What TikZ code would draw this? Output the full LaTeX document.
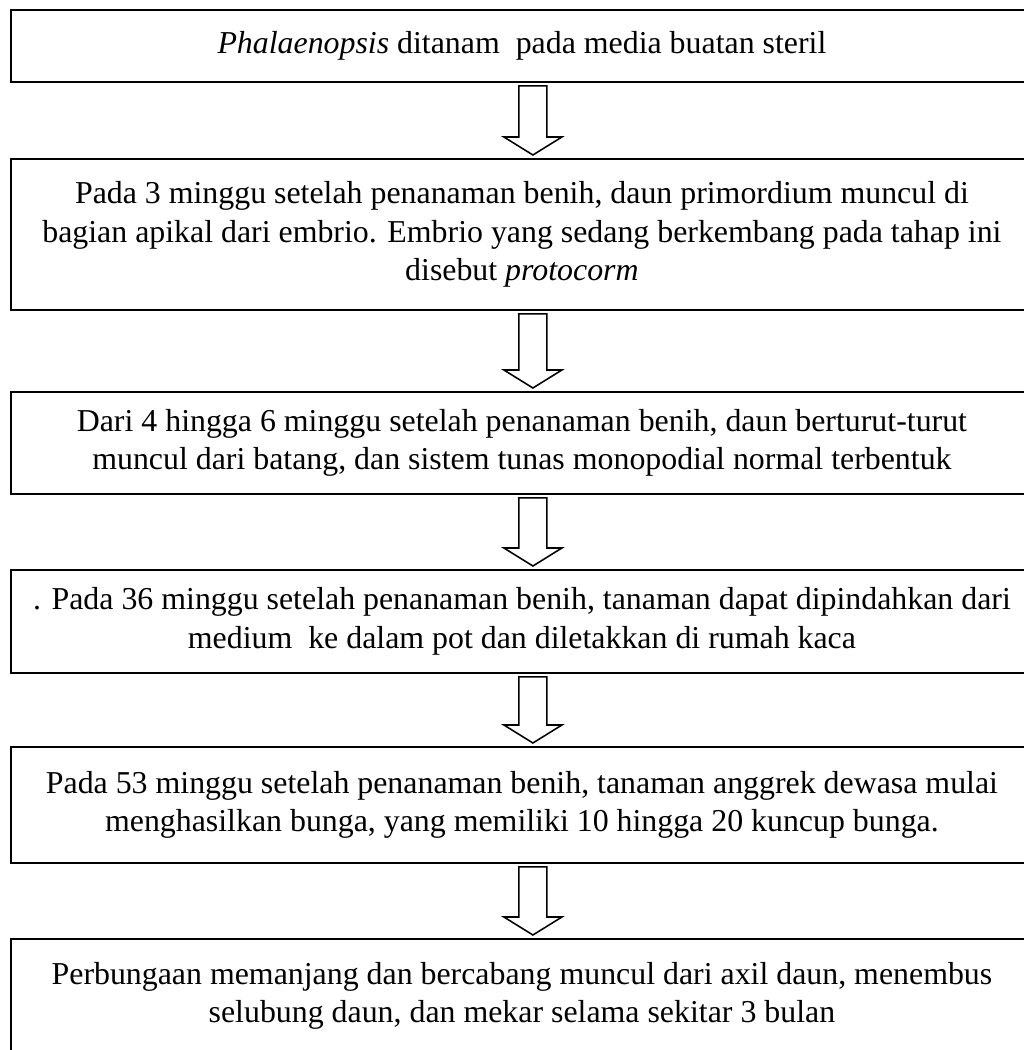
\documentclass[tikz,border=0pt]{standalone}
\usepackage{fontspec}
\setmainfont{Liberation Serif}
\usetikzlibrary{calc}
\newdimen\pxu \pxu=0.3876pt
\tikzset{
    stagebox/.style={draw, line width=0.7pt, anchor=north west,
        minimum width=1022\pxu, inner sep=0pt, align=center,
        font=\fontsize{12.35}{14.8}\selectfont} }
\tikzset{
    downarrow/.style={draw, line width=0.6pt, line join=miter} }
% hollow block arrow from the bottom of one box to the top of the next
\newcommand{\flowarrow}[2]{%
  \draw [downarrow] ($(#1.south)+(-3,3)$) -- ($(#1.south)+(25,3)$)
    -- ($(#2.north)+(25,-21)$) -- ($(#2.north)+(40,-21)$) -- ($(#2.north)+(11,-3)$)
    -- ($(#2.north)+(-18,-21)$) -- ($(#2.north)+(-3,-21)$) -- cycle;}

\begin{document}
\begin{tikzpicture}[x=0.3876pt, y=-0.3876pt]

  \useasboundingbox (0,0) rectangle (1024,1050);

  \node [stagebox, minimum height=72\pxu] (b1) at (10,9)
    {\textit{Phalaenopsis} ditanam\ \ pada media buatan steril};
  \node [stagebox, minimum height=151\pxu] (b2) at (10,158)
    {Pada 3 minggu setelah penanaman benih, daun primordium muncul di\\
     bagian apikal dari embrio. Embrio yang sedang berkembang pada tahap ini\\
     disebut \textit{protocorm}};
  \node [stagebox, minimum height=102\pxu] (b3) at (10,391)
    {Dari 4 hingga 6 minggu setelah penanaman benih, daun berturut-turut\\
     muncul dari batang, dan sistem tunas monopodial normal terbentuk};
  \node [stagebox, minimum height=103\pxu] (b4) at (10,569)
    {. Pada 36 minggu setelah penanaman benih, tanaman dapat dipindahkan dari\\
     medium\ \ ke dalam pot dan diletakkan di rumah kaca};
  \node [stagebox, minimum height=116\pxu] (b5) at (10,746)
    {Pada 53 minggu setelah penanaman benih, tanaman anggrek dewasa mulai\\
     menghasilkan bunga, yang memiliki 10 hingga 20 kuncup bunga.};
  \node [stagebox, minimum height=114\pxu] (b6) at (10,938)
    {Perbungaan memanjang dan bercabang muncul dari axil daun, menembus\\
     selubung daun, dan mekar selama sekitar 3 bulan};

  \flowarrow{b1}{b2}
  \flowarrow{b2}{b3}
  \flowarrow{b3}{b4}
  \flowarrow{b4}{b5}
  \flowarrow{b5}{b6}

\end{tikzpicture}
\end{document}
